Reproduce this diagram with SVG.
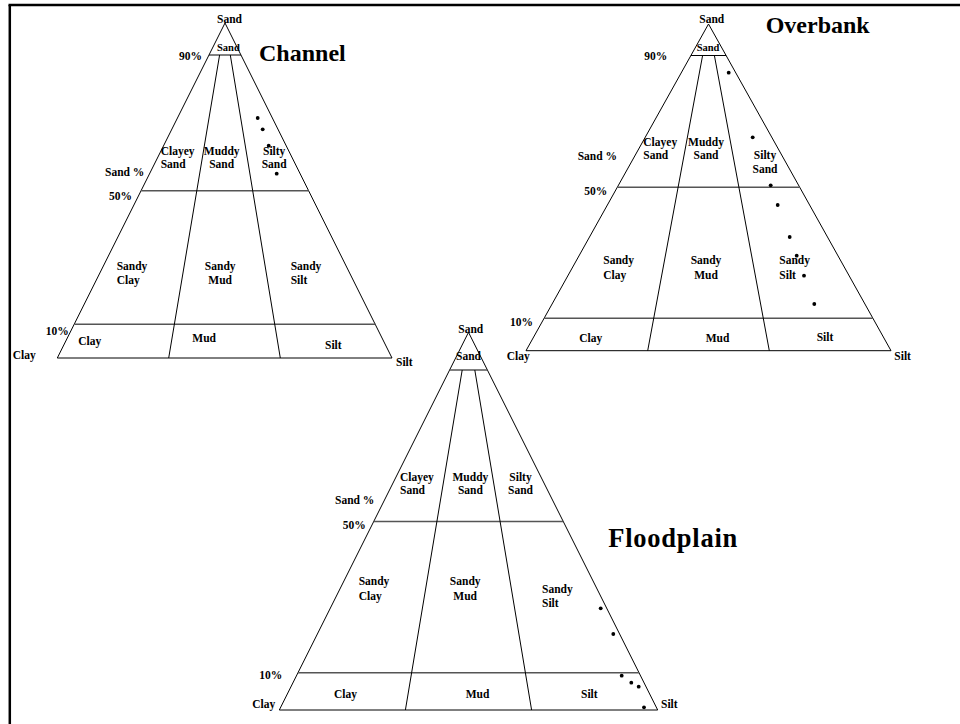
<svg xmlns="http://www.w3.org/2000/svg" width="960" height="724" viewBox="0 0 960 724">
<style>
text{font-family:"Liberation Serif","Times New Roman",serif;font-weight:bold;fill:#000}
.l{font-size:11.5px}
.s{font-size:10.5px}
.t{font-size:24px}
.tri{fill:none;stroke:#000;stroke-width:1}
.h{stroke:#555;stroke-width:1.6}
.h9{stroke:#000;stroke-width:1}
.v{stroke:#000;stroke-width:1}
.d{fill:#000}
</style>
<rect x="0" y="0" width="960" height="724" fill="#fff"/>
<g id="frame">
<line x1="8.5" y1="5" x2="960" y2="5" stroke="#000" stroke-width="2.5"/>
<line x1="9.8" y1="5" x2="9.8" y2="724" stroke="#000" stroke-width="2.5"/>
</g>

<g id="channel">
<g id="channel-lines">
<polygon class="tri" points="225,23 57.3,358 392,358"/>
<line class="h9" x1="209" y1="55" x2="241" y2="55"/>
<line class="h" x1="141.2" y1="190.7" x2="308.8" y2="190.7"/>
<line class="h" x1="74.5" y1="324.3" x2="375.5" y2="324.3"/>
<line class="v" x1="219.6" y1="55" x2="168.7" y2="358"/>
<line class="v" x1="230.3" y1="55" x2="280.3" y2="358"/>
</g>
<text class="l" x="217" y="23">Sand</text>
<text class="s" x="217" y="51">Sand</text>
<text class="l" x="179" y="60">90%</text>
<text class="t" x="259" y="61">Channel</text>
<text class="l" x="160.7" y="155">Clayey</text>
<text class="l" x="160.7" y="167.5">Sand</text>
<text class="l" x="221.7" y="155" text-anchor="middle">Muddy</text>
<text class="l" x="221.7" y="167.5" text-anchor="middle">Sand</text>
<text class="l" x="274.2" y="155" text-anchor="middle">Silty</text>
<text class="l" x="274.2" y="167.5" text-anchor="middle">Sand</text>
<text class="l" x="105" y="176">Sand %</text>
<text class="l" x="109" y="200">50%</text>
<text class="l" x="116.7" y="270">Sandy</text>
<text class="l" x="116.7" y="284.3">Clay</text>
<text class="l" x="220.2" y="270" text-anchor="middle">Sandy</text>
<text class="l" x="220.2" y="284.3" text-anchor="middle">Mud</text>
<text class="l" x="290.7" y="270">Sandy</text>
<text class="l" x="290.7" y="284.3">Silt</text>
<text class="l" x="45.7" y="335">10%</text>
<text class="l" x="78.3" y="345">Clay</text>
<text class="l" x="192.3" y="342.3">Mud</text>
<text class="l" x="325" y="349.3">Silt</text>
<text class="l" x="12.7" y="359">Clay</text>
<text class="l" x="396" y="366">Silt</text>
<g id="channel-points">
<circle class="d" cx="257.7" cy="118" r="1.9"/>
<circle class="d" cx="262.7" cy="129.3" r="1.9"/>
<circle class="d" cx="268.7" cy="145.7" r="1.9"/>
<circle class="d" cx="276.7" cy="173.7" r="1.9"/>
</g>
</g>

<g id="overbank">
<g id="overbank-lines">
<polygon class="tri" points="708.5,24 526,350.7 891,350.7"/>
<line class="h9" x1="690.9" y1="55.5" x2="726.1" y2="55.5"/>
<line class="h" x1="617.3" y1="187.2" x2="799.7" y2="187.2"/>
<line class="h" x1="544.1" y1="318.3" x2="872.9" y2="318.3"/>
<line class="v" x1="702.6" y1="55.5" x2="647.7" y2="350.7"/>
<line class="v" x1="714.4" y1="55.5" x2="769.3" y2="350.7"/>
</g>
<text class="l" x="699.3" y="23">Sand</text>
<text class="s" x="696.7" y="50.7">Sand</text>
<text class="l" x="644.3" y="60">90%</text>
<text class="t" x="765.7" y="33.3">Overbank</text>
<text class="l" x="643.3" y="145.7">Clayey</text>
<text class="l" x="643.3" y="159.3">Sand</text>
<text class="l" x="706" y="145.7" text-anchor="middle">Muddy</text>
<text class="l" x="706" y="159.3" text-anchor="middle">Sand</text>
<text class="l" x="765" y="159.3" text-anchor="middle">Silty</text>
<text class="l" x="765" y="173.3" text-anchor="middle">Sand</text>
<text class="l" x="577.7" y="160">Sand %</text>
<text class="l" x="584.3" y="195">50%</text>
<text class="l" x="603.3" y="264.3">Sandy</text>
<text class="l" x="603.3" y="279">Clay</text>
<text class="l" x="706" y="264.3" text-anchor="middle">Sandy</text>
<text class="l" x="706" y="279" text-anchor="middle">Mud</text>
<text class="l" x="779.3" y="264.3">Sandy</text>
<text class="l" x="779.3" y="279">Silt</text>
<text class="l" x="510" y="325.7">10%</text>
<text class="l" x="579.3" y="342.3">Clay</text>
<text class="l" x="705.7" y="342.3">Mud</text>
<text class="l" x="816.7" y="340.7">Silt</text>
<text class="l" x="506.7" y="360">Clay</text>
<text class="l" x="894.3" y="360">Silt</text>
<g id="overbank-points">
<circle class="d" cx="728.7" cy="72.7" r="1.9"/>
<circle class="d" cx="752.7" cy="137.3" r="1.9"/>
<circle class="d" cx="770.7" cy="185.3" r="1.9"/>
<circle class="d" cx="777.7" cy="205" r="1.9"/>
<circle class="d" cx="789.7" cy="237" r="1.9"/>
<circle class="d" cx="796.7" cy="255.7" r="1.9"/>
<circle class="d" cx="804" cy="275.7" r="1.9"/>
<circle class="d" cx="814.3" cy="304" r="1.9"/>
</g>
</g>

<g id="floodplain">
<g id="floodplain-lines">
<polygon class="tri" points="468.5,332.3 279.3,710 657.7,710"/>
<line class="h" x1="449.6" y1="370" x2="487.4" y2="370"/>
<line class="h" x1="373.7" y1="521.5" x2="563.3" y2="521.5"/>
<line class="h" x1="298" y1="672.7" x2="639" y2="672.7"/>
<line class="v" x1="462.2" y1="370" x2="405.4" y2="710"/>
<line class="v" x1="474.8" y1="370" x2="531.6" y2="710"/>
</g>
<text class="l" x="458.3" y="333.3">Sand</text>
<text class="l" x="456" y="360">Sand</text>
<text x="608.3" y="547" font-size="26.5" textLength="129" lengthAdjust="spacing">Floodplain</text>
<text class="l" x="400" y="480.7">Clayey</text>
<text class="l" x="400" y="494.3">Sand</text>
<text class="l" x="470.4" y="480.7" text-anchor="middle">Muddy</text>
<text class="l" x="470.4" y="494.3" text-anchor="middle">Sand</text>
<text class="l" x="520.5" y="480.7" text-anchor="middle">Silty</text>
<text class="l" x="520.5" y="494.3" text-anchor="middle">Sand</text>
<text class="l" x="335" y="504.3">Sand %</text>
<text class="l" x="342.7" y="529">50%</text>
<text class="l" x="358.7" y="585">Sandy</text>
<text class="l" x="358.7" y="600">Clay</text>
<text class="l" x="465.2" y="585" text-anchor="middle">Sandy</text>
<text class="l" x="465.2" y="600" text-anchor="middle">Mud</text>
<text class="l" x="542" y="592.7">Sandy</text>
<text class="l" x="542" y="607.3">Silt</text>
<text class="l" x="259.3" y="679.3">10%</text>
<text class="l" x="334" y="698.3">Clay</text>
<text class="l" x="465.7" y="698.3">Mud</text>
<text class="l" x="581" y="698.3">Silt</text>
<text class="l" x="252.3" y="707.7">Clay</text>
<text class="l" x="661" y="707.7">Silt</text>
<g id="floodplain-points">
<circle class="d" cx="600.7" cy="608.3" r="1.9"/>
<circle class="d" cx="613.3" cy="634" r="1.9"/>
<circle class="d" cx="621.7" cy="675.7" r="1.9"/>
<circle class="d" cx="631.3" cy="682.7" r="1.9"/>
<circle class="d" cx="638.7" cy="686.7" r="1.9"/>
<circle class="d" cx="644" cy="707.3" r="1.9"/>
</g>
</g>
</svg>
